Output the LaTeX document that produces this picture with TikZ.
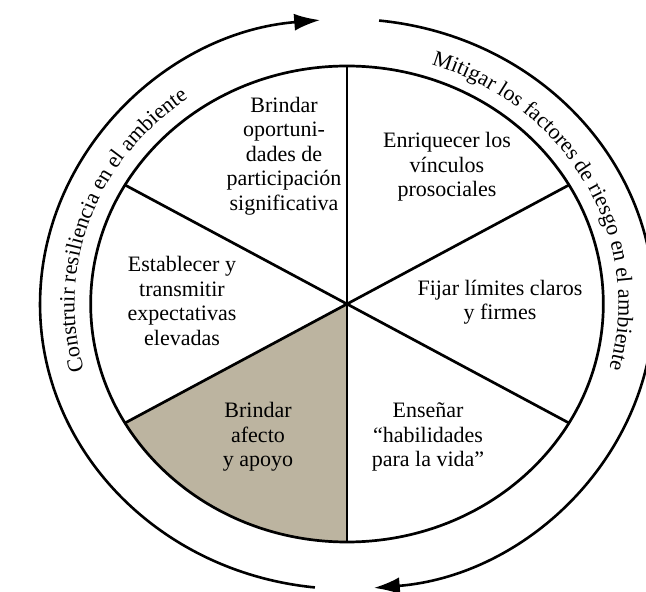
\documentclass[tikz,border=0pt]{standalone}
\usepackage{fontspec}
\setmainfont{Liberation Serif}
\usetikzlibrary{arrows.meta,decorations.text}
\definecolor{afectogris}{RGB}{188,180,160}
\tikzset{
  rueda/.style={line width=2.7pt},
  anillo/.style={line width=2.6pt,-{Latex[length=26pt,width=17pt]}},
  rotulo/.style={align=center,font=\fontsize{22}{24.5}\selectfont}
}
\begin{document}
\begin{tikzpicture}[x=1pt,y=1pt]
    \useasboundingbox (0,0) rectangle (646,592);
    \begin{scope}[shift={(347,288)},xscale=1.077]
        \fill[afectogris] (0,0) -- (210:238) arc (210:270:238) -- cycle;
        \foreach \a in {30,90,...,330}
            \draw[rueda] (0,0) -- (\a:238);
        \draw[rueda] (0,0) circle (238);
        % anillo exterior
        \draw[anillo] (264:285) arc (264:95:285);
        \draw[anillo] (84:285) arc (84:-85:285);
        \path[decorate,decoration={text along path,text align=center,
            text={|\fontsize{22}{24}\selectfont|Construir resiliencia en el ambiente}}]
            (221:253) arc (221:101:253);
        \path[decorate,decoration={text along path,text align=center,
            text={|\fontsize{22}{24}\selectfont|Mitigar los factores de riesgo en el ambiente}}]
            (88:252) arc (88:-32:252);
    \end{scope}
    \node[rotulo] (oportunidades) at (284,436) {Brindar\\oportuni-\\dades de\\participación\\significativa};
    \node[rotulo] (vinculos) at (447,425) {Enriquecer los\\vínculos\\prosociales};
    \node[rotulo] (expectativas) at (182,291) {Establecer y\\transmitir\\expectativas\\elevadas};
    \node[rotulo] (limites) at (500,290) {Fijar límites claros\\y firmes};
    \node[rotulo] (afecto) at (258,155) {Brindar\\afecto\\y apoyo};
    \node[rotulo] (habilidades) at (428,155) {Enseñar\\“habilidades\\para la vida”};
\end{tikzpicture}
\end{document}
